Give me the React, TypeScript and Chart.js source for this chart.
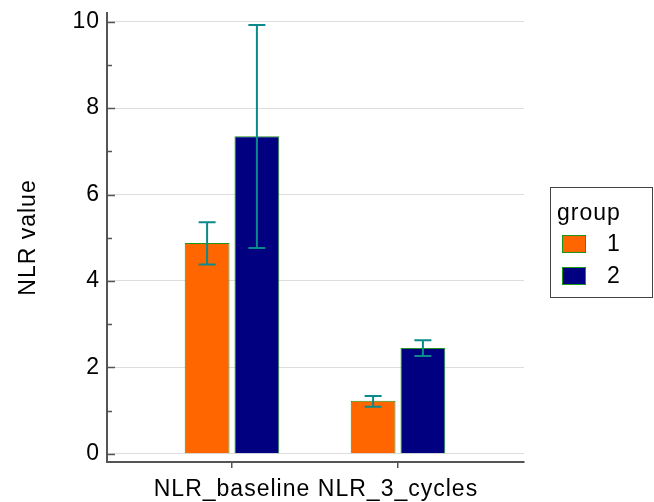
import React, { useEffect, useRef } from "react";
import { Chart, registerables } from "chart.js";

Chart.register(...registerables);

const categories = ["NLR_baseline", "NLR_3_cycles"];
const groupLabels = ["1", "2"];
const group1Means = [4.88, 1.23];
const group1Lower = [4.38, 1.09];
const group1Upper = [5.36, 1.34];
const group2Means = [7.35, 2.45];
const group2Lower = [4.76, 2.26];
const group2Upper = [9.92, 2.63];
const yMajorTicks = [0, 2, 4, 6, 8, 10];
const yMinorTicks = [1, 3, 5, 7, 9];

const lowers = [group1Lower, group2Lower];
const uppers = [group1Upper, group2Upper];
const fills = ["#FF6600", "#000080"];
const BORDER_GREEN = "#1A961A";
const ERR = "#0A8A8A";
const AXIS = "#555555";
const TEXT = "#000000";
const FONT = "'Liberation Sans', Arial, sans-serif";
const FS = 23;

const spacingPlugin = {
  id: "spacing",
  beforeLayout(chart: any) {
    chart.ctx.letterSpacing = "1px";
  },
  beforeDraw(chart: any) {
    chart.ctx.letterSpacing = "1px";
  },
};

const errorBarPlugin = {
  id: "errorBars",
  afterDatasetsDraw(chart: any) {
    const ctx = chart.ctx;
    const y = chart.scales.y;
    ctx.save();
    ctx.strokeStyle = ERR;
    ctx.lineWidth = 2;
    chart.data.datasets.forEach((_ds: any, i: number) => {
      const meta = chart.getDatasetMeta(i);
      meta.data.forEach((el: any, j: number) => {
        const yt = y.getPixelForValue(uppers[i][j]);
        const yb = y.getPixelForValue(lowers[i][j]);
        const x = el.x;
        ctx.beginPath();
        ctx.moveTo(x, yt);
        ctx.lineTo(x, yb);
        ctx.moveTo(x - 8.5, yt);
        ctx.lineTo(x + 8.5, yt);
        ctx.moveTo(x - 8.5, yb);
        ctx.lineTo(x + 8.5, yb);
        ctx.stroke();
      });
    });
    ctx.restore();
  },
};

const axisTickPlugin = {
  id: "axisTicks",
  afterDraw(chart: any) {
    const ctx = chart.ctx;
    const y = chart.scales.y;
    const left = chart.chartArea.left;
    ctx.save();
    ctx.strokeStyle = AXIS;
    ctx.lineWidth = 1.5;
    yMajorTicks.forEach((v) => {
      const py = Math.round(y.getPixelForValue(v)) + 0.5;
      ctx.beginPath();
      ctx.moveTo(left - 1, py);
      ctx.lineTo(left + 8, py);
      ctx.stroke();
    });
    yMinorTicks.forEach((v) => {
      const py = Math.round(y.getPixelForValue(v)) + 0.5;
      ctx.beginPath();
      ctx.moveTo(left, py);
      ctx.lineTo(left + 5, py);
      ctx.stroke();
    });
    ctx.restore();
  },
};

const legendPlugin = {
  id: "customLegend",
  afterDraw(chart: any) {
    const ctx = chart.ctx;
    ctx.save();
    ctx.letterSpacing = "1px";
    ctx.strokeStyle = "#444";
    ctx.lineWidth = 1;
    ctx.strokeRect(550.5, 187.5, 102, 110);
    ctx.fillStyle = TEXT;
    ctx.font = `${FS}px ${FONT}`;
    ctx.textBaseline = "alphabetic";
    ctx.textAlign = "left";
    ctx.fillText("group", 557, 220);
    chart.data.datasets.forEach((ds: any, i: number) => {
      const top = 235 + i * 32;
      ctx.fillStyle = fills[i];
      ctx.fillRect(562, top, 24, 18);
      ctx.strokeStyle = BORDER_GREEN;
      ctx.strokeRect(562.5, top + 0.5, 23, 17);
      ctx.fillStyle = TEXT;
      ctx.textBaseline = "middle";
      ctx.fillText(ds.label, 607, top + 10);
    });
    ctx.restore();
  },
};

export default function App() {
  const ref = useRef<HTMLCanvasElement | null>(null);
  useEffect(() => {
    if (!ref.current) return;
    const mk = (means: number[]) => means.map((v, i) => ({ x: i + 1, y: v }));
    const chart = new Chart(ref.current, {
      type: "bar",
      data: {
        datasets: [
          {
            label: groupLabels[0],
            data: mk(group1Means),
            backgroundColor: fills[0],
            borderColor: BORDER_GREEN,
            borderWidth: 1,
            categoryPercentage: 0.6,
            barPercentage: 0.9,
          },
          {
            label: groupLabels[1],
            data: mk(group2Means),
            backgroundColor: fills[1],
            borderColor: BORDER_GREEN,
            borderWidth: 1,
            categoryPercentage: 0.6,
            barPercentage: 0.9,
          },
        ] as any,
      },
      options: {
        responsive: false,
        animation: false,
        layout: { padding: { left: 0, top: 13, right: 130, bottom: 0 } },
        plugins: { legend: { display: false }, tooltip: { enabled: false } },
        scales: {
          x: {
            type: "linear",
            min: 0.247,
            max: 2.759,
            offset: false,
            afterBuildTicks(scale: any) {
              scale.ticks = [{ value: 1 }, { value: 2 }];
            },
            afterFit(scale: any) {
              scale.height = 40;
              scale.paddingLeft = 0;
              scale.paddingRight = 0;
            },
            grid: {
              display: true,
              offset: false,
              drawOnChartArea: false,
              drawTicks: true,
              tickLength: 6,
              color: AXIS,
              lineWidth: 1.5,
            },
            border: { display: true, color: AXIS, width: 2 },
            ticks: {
              autoSkip: false,
              maxRotation: 0,
              padding: 8,
              color: TEXT,
              font: { family: FONT, size: FS },
              callback: (v: any) => categories[Number(v) - 1] ?? "",
            },
          },
          y: {
            type: "linear",
            min: -0.19,
            max: 10.2,
            afterBuildTicks(scale: any) {
              scale.ticks = yMajorTicks.map((v) => ({ value: v }));
            },
            afterFit(scale: any) {
              scale.width = 107;
              scale.paddingTop = 0;
              scale.paddingBottom = 0;
            },
            grid: { color: "#DDDDDD", lineWidth: 1, drawTicks: false, tickLength: 0 },
            border: { display: true, color: AXIS, width: 2 },
            ticks: {
              padding: 7,
              color: TEXT,
              font: { family: FONT, size: FS },
            },
            title: {
              display: true,
              text: "NLR value",
              color: TEXT,
              font: { family: FONT, size: FS },
              padding: { top: 15, bottom: 0 },
            },
          },
        },
      } as any,
      plugins: [spacingPlugin, errorBarPlugin, axisTickPlugin, legendPlugin],
    });
    return () => chart.destroy();
  }, []);
  return (
    <div style={{ position: "absolute", left: 0, top: 0, width: 654, height: 502, background: "#fff" }}>
      <canvas ref={ref} width={654} height={502} />
    </div>
  );
}
